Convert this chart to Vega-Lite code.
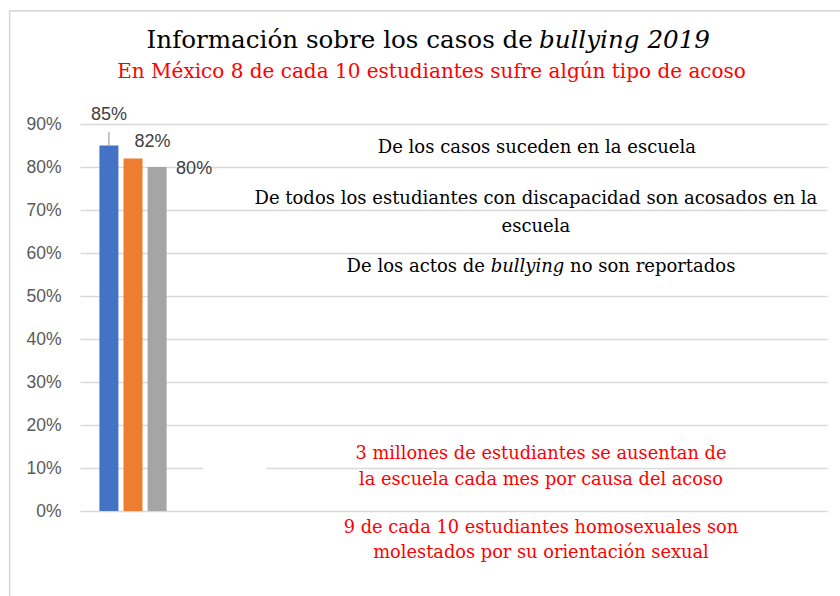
{
  "$schema": "https://vega.github.io/schema/vega-lite/v6.json",
  "width": 747,
  "height": 387,
  "autosize": {"type": "none"},
  "padding": {"left": 80, "top": 124, "right": 13, "bottom": 85},
  "background": "#ffffff",
  "config": {"view": {"stroke": null}, "font": "Liberation Sans"},
  "datasets": {
    "barras": [
      {"orden": 1, "indicador": "De los casos suceden en la escuela", "valor": 0.85},
      {"orden": 2, "indicador": "De todos los estudiantes con discapacidad son acosados en la escuela", "valor": 0.82},
      {"orden": 3, "indicador": "De los actos de bullying no son reportados", "valor": 0.80}
    ]
  },
  "data": {"name": "barras"},
  "layer": [
    {
      "data": {"values": [{"marco": "chart"}]},
      "mark": {"type": "rect", "fill": null, "fillOpacity": 0, "stroke": "#d9d9d9", "strokeWidth": 1.6, "clip": false},
      "encoding": {
        "x": {"datum": -3.12, "type": "quantitative", "scale": {"domain": [-0.2, 30.8], "nice": false, "zero": false, "padding": 0}, "axis": null},
        "x2": {"datum": 40},
        "y": {"datum": 1.163, "type": "quantitative"},
        "y2": {"datum": -0.4}
      }
    },
    {
      "mark": {"type": "bar", "width": 19},
      "encoding": {
        "x": {"field": "orden", "type": "quantitative", "scale": {"domain": [-0.2, 30.8], "nice": false, "zero": false, "padding": 0}, "axis": null},
        "y": {
          "field": "valor", "type": "quantitative",
          "scale": {"domain": [0, 0.9], "nice": false, "zero": true, "padding": 0},
          "axis": {
            "title": null, "values": [0, 0.1, 0.2, 0.3, 0.4, 0.5, 0.6, 0.7, 0.8, 0.9], "format": ".0%",
            "domain": false, "ticks": false, "labelPadding": 19, "labelFontSize": 17.5,
            "labelColor": "#595959", "labelFont": "Liberation Sans",
            "grid": true, "gridColor": "#d9d9d9", "gridWidth": 1.3
          }
        },
        "color": {
          "field": "indicador", "type": "nominal", "legend": null,
          "scale": {
            "domain": ["De los casos suceden en la escuela", "De todos los estudiantes con discapacidad son acosados en la escuela", "De los actos de bullying no son reportados"],
            "range": ["#4472c4", "#ed7d31", "#a5a5a5"]
          }
        }
      }
    },
    {
      "data": {"values": [{"caja": "vacía"}]},
      "mark": {"type": "rect", "fill": "#ffffff", "stroke": null},
      "encoding": {
        "x": {"datum": 4.9}, "x2": {"datum": 7.52},
        "y": {"datum": 0.09}, "y2": {"datum": 0.11}
      }
    },
    {
      "transform": [{"filter": "datum.orden == 1"}],
      "mark": {"type": "rule", "color": "#a6a6a6", "strokeWidth": 1.3},
      "encoding": {
        "x": {"field": "orden", "type": "quantitative"},
        "y": {"field": "valor", "type": "quantitative"},
        "y2": {"datum": 0.881}
      }
    },
    {
      "transform": [{"filter": "datum.orden == 1"}],
      "mark": {"type": "text", "fontSize": 18, "color": "#404040", "baseline": "middle", "clip": false},
      "encoding": {
        "x": {"field": "orden", "type": "quantitative"},
        "y": {"datum": 0.921},
        "text": {"field": "valor", "type": "quantitative", "format": ".0%"}
      }
    },
    {
      "transform": [{"filter": "datum.orden == 2"}],
      "mark": {"type": "text", "fontSize": 18, "color": "#404040", "baseline": "middle", "dx": 19.5, "dy": -16.7},
      "encoding": {
        "x": {"field": "orden", "type": "quantitative"},
        "y": {"field": "valor", "type": "quantitative"},
        "text": {"field": "valor", "type": "quantitative", "format": ".0%"}
      }
    },
    {
      "transform": [{"filter": "datum.orden == 3"}],
      "mark": {"type": "text", "fontSize": 18, "color": "#404040", "baseline": "middle", "align": "left", "dx": 19, "dy": 2},
      "encoding": {
        "x": {"field": "orden", "type": "quantitative"},
        "y": {"field": "valor", "type": "quantitative"},
        "text": {"field": "valor", "type": "quantitative", "format": ".0%"}
      }
    },
    {
      "data": {"values": [{"texto": "Información sobre los casos de"}]},
      "mark": {"type": "text", "font": "DejaVu Serif", "fontSize": 24.6, "color": "#000000", "align": "right", "baseline": "middle", "dx": -3, "clip": false},
      "encoding": {"x": {"datum": 18.72}, "y": {"datum": 1.094}, "text": {"field": "texto"}}
    },
    {
      "data": {"values": [{"texto": "bullying 2019"}]},
      "mark": {"type": "text", "font": "DejaVu Serif", "fontStyle": "italic", "fontSize": 24.6, "color": "#000000", "align": "left", "baseline": "middle", "dx": 3, "clip": false},
      "encoding": {"x": {"datum": 18.72}, "y": {"datum": 1.094}, "text": {"field": "texto"}}
    },
    {
      "data": {"values": [{"texto": "En México 8 de cada 10 estudiantes sufre algún tipo de acoso"}]},
      "mark": {"type": "text", "font": "DejaVu Serif", "fontSize": 20, "color": "#ff0000", "align": "center", "baseline": "middle", "clip": false},
      "encoding": {"x": {"datum": 14.39}, "y": {"datum": 1.021}, "text": {"field": "texto"}}
    },
    {
      "data": {"values": [{"texto": "De los casos suceden en la escuela"}]},
      "mark": {"type": "text", "font": "DejaVu Serif", "fontSize": 18, "color": "#000000", "align": "center", "baseline": "middle"},
      "encoding": {"x": {"datum": 18.76}, "y": {"datum": 0.844}, "text": {"field": "texto"}}
    },
    {
      "data": {"values": [{"texto": "De todos los estudiantes con discapacidad son acosados en la\nescuela"}]},
      "mark": {"type": "text", "font": "DejaVu Serif", "fontSize": 18, "color": "#000000", "align": "center", "baseline": "middle", "lineBreak": "\n", "lineHeight": 28},
      "encoding": {"x": {"datum": 18.72}, "y": {"datum": 0.726}, "text": {"field": "texto"}}
    },
    {
      "data": {"values": [{"texto": "De los actos de"}]},
      "mark": {"type": "text", "font": "DejaVu Serif", "fontSize": 18, "color": "#000000", "align": "right", "baseline": "middle"},
      "encoding": {"x": {"datum": 16.607}, "y": {"datum": 0.568}, "text": {"field": "texto"}}
    },
    {
      "data": {"values": [{"texto": "bullying"}]},
      "mark": {"type": "text", "font": "DejaVu Serif", "fontStyle": "italic", "fontSize": 18, "color": "#000000", "align": "left", "baseline": "middle"},
      "encoding": {"x": {"datum": 16.844}, "y": {"datum": 0.568}, "text": {"field": "texto"}}
    },
    {
      "data": {"values": [{"texto": "no son reportados"}]},
      "mark": {"type": "text", "font": "DejaVu Serif", "fontSize": 18, "color": "#000000", "align": "left", "baseline": "middle"},
      "encoding": {"x": {"datum": 20.139}, "y": {"datum": 0.568}, "text": {"field": "texto"}}
    },
    {
      "data": {"values": [{"texto": "3 millones de estudiantes se ausentan de\nla escuela cada mes por causa del acoso"}]},
      "mark": {"type": "text", "font": "DejaVu Serif", "fontSize": 17.8, "color": "#ff0000", "align": "center", "baseline": "middle", "lineBreak": "\n", "lineHeight": 26},
      "encoding": {"x": {"datum": 18.93}, "y": {"datum": 0.133}, "text": {"field": "texto"}}
    },
    {
      "data": {"values": [{"texto": "9 de cada 10 estudiantes homosexuales son\nmolestados por su orientación sexual"}]},
      "mark": {"type": "text", "font": "DejaVu Serif", "fontSize": 17.8, "color": "#ff0000", "align": "center", "baseline": "middle", "lineBreak": "\n", "lineHeight": 25, "clip": false},
      "encoding": {"x": {"datum": 18.93}, "y": {"datum": -0.04}, "text": {"field": "texto"}}
    }
  ]
}
